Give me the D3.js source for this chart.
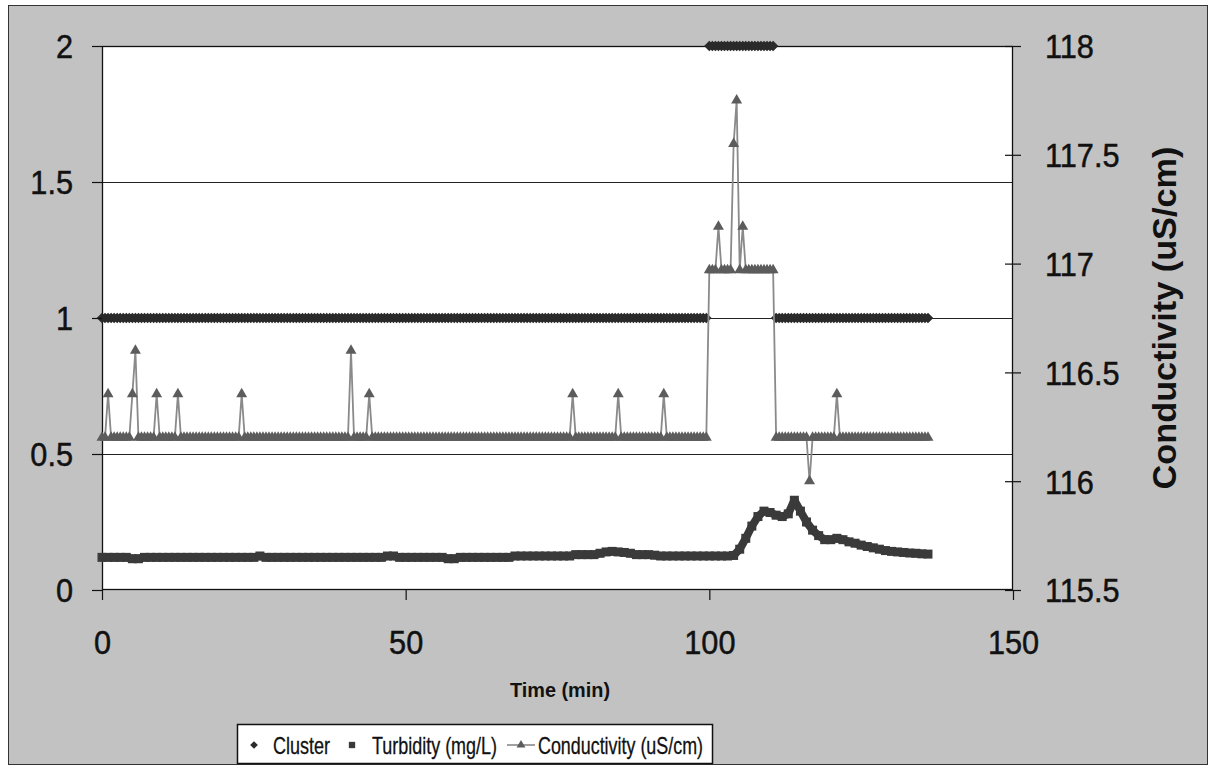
<!DOCTYPE html>
<html><head><meta charset="utf-8">
<script src="https://cdn.jsdelivr.net/npm/d3@7"></script>
<style>html,body{margin:0;padding:0;background:#fff;} svg{display:block;}</style>
</head><body><svg id="chart" width="1210" height="767"></svg>
<script>
// ---------- data ----------
const xTicks = [0, 50, 100, 150];
const xTickLabels = ["0", "50", "100", "150"];
const leftTicks = [0, 0.5, 1, 1.5, 2];
const leftTickLabels = ["0", "0.5", "1", "1.5", "2"];
const rightTicks = [115.5, 116, 116.5, 117, 117.5, 118];
const rightTickLabels = ["115.5", "116", "116.5", "117", "117.5", "118"];
const gridValues = [0.5, 1, 1.5];
const seriesNames = ["Cluster", "Turbidity (mg/L)", "Conductivity (uS/cm)"];
const xTitle = "Time (min)";
const yRightTitle = "Conductivity (uS/cm)";

// cluster & conductivity sampled every 0.5 min (t = 0 ... 136)
const sampleStep = 0.5;
const cluster = [
1,1,1,1,1,1,1,1,1,1,1,1,1,1,1,1,1,1,1,1,
1,1,1,1,1,1,1,1,1,1,1,1,1,1,1,1,1,1,1,1,
1,1,1,1,1,1,1,1,1,1,1,1,1,1,1,1,1,1,1,1,
1,1,1,1,1,1,1,1,1,1,1,1,1,1,1,1,1,1,1,1,
1,1,1,1,1,1,1,1,1,1,1,1,1,1,1,1,1,1,1,1,
1,1,1,1,1,1,1,1,1,1,1,1,1,1,1,1,1,1,1,1,
1,1,1,1,1,1,1,1,1,1,1,1,1,1,1,1,1,1,1,1,
1,1,1,1,1,1,1,1,1,1,1,1,1,1,1,1,1,1,1,1,
1,1,1,1,1,1,1,1,1,1,1,1,1,1,1,1,1,1,1,1,
1,1,1,1,1,1,1,1,1,1,1,1,1,1,1,1,1,1,1,1,
2,2,2,2,2,2,2,2,2,2,2,2,2,2,2,2,2,2,2,2,
2,2,1,1,1,1,1,1,1,1,1,1,1,1,1,1,1,1,1,1,
1,1,1,1,1,1,1,1,1,1,1,1,1,1,1,1,1,1,1,1,
1,1,1,1,1,1,1,1,1,1,1,1,1
];
const conductivity = [
116.2,116.2,116.4,116.2,116.2,116.2,116.2,116.2,116.2,116.2,116.4,116.6,116.2,116.2,116.2,116.2,116.2,116.2,116.4,116.2,
116.2,116.2,116.2,116.2,116.2,116.4,116.2,116.2,116.2,116.2,116.2,116.2,116.2,116.2,116.2,116.2,116.2,116.2,116.2,116.2,
116.2,116.2,116.2,116.2,116.2,116.2,116.4,116.2,116.2,116.2,116.2,116.2,116.2,116.2,116.2,116.2,116.2,116.2,116.2,116.2,
116.2,116.2,116.2,116.2,116.2,116.2,116.2,116.2,116.2,116.2,116.2,116.2,116.2,116.2,116.2,116.2,116.2,116.2,116.2,116.2,
116.2,116.2,116.6,116.2,116.2,116.2,116.2,116.2,116.4,116.2,116.2,116.2,116.2,116.2,116.2,116.2,116.2,116.2,116.2,116.2,
116.2,116.2,116.2,116.2,116.2,116.2,116.2,116.2,116.2,116.2,116.2,116.2,116.2,116.2,116.2,116.2,116.2,116.2,116.2,116.2,
116.2,116.2,116.2,116.2,116.2,116.2,116.2,116.2,116.2,116.2,116.2,116.2,116.2,116.2,116.2,116.2,116.2,116.2,116.2,116.2,
116.2,116.2,116.2,116.2,116.2,116.2,116.2,116.2,116.2,116.2,116.2,116.2,116.2,116.2,116.2,116.4,116.2,116.2,116.2,116.2,
116.2,116.2,116.2,116.2,116.2,116.2,116.2,116.2,116.2,116.2,116.4,116.2,116.2,116.2,116.2,116.2,116.2,116.2,116.2,116.2,
116.2,116.2,116.2,116.2,116.2,116.4,116.2,116.2,116.2,116.2,116.2,116.2,116.2,116.2,116.2,116.2,116.2,116.2,116.2,116.2,
116.97,116.97,116.97,117.17,116.97,116.97,116.97,116.97,117.55,117.75,116.97,117.17,116.97,116.97,116.97,116.97,116.97,116.97,116.97,116.97,
116.97,116.97,116.2,116.2,116.2,116.2,116.2,116.2,116.2,116.2,116.2,116.2,116.2,116.0,116.2,116.2,116.2,116.2,116.2,116.2,
116.2,116.2,116.4,116.2,116.2,116.2,116.2,116.2,116.2,116.2,116.2,116.2,116.2,116.2,116.2,116.2,116.2,116.2,116.2,116.2,
116.2,116.2,116.2,116.2,116.2,116.2,116.2,116.2,116.2,116.2,116.2,116.2,116.2
];
// turbidity sampled every 1 min (t = 0 ... 136)
const turbidityStep = 1;
const turbidity = [
0.12,0.12,0.12,0.12,0.12,0.115,0.115,0.12,0.12,0.12,
0.12,0.12,0.12,0.12,0.12,0.12,0.12,0.12,0.12,0.12,
0.12,0.12,0.12,0.12,0.12,0.12,0.125,0.12,0.12,0.12,
0.12,0.12,0.12,0.12,0.12,0.12,0.12,0.12,0.12,0.12,
0.12,0.12,0.12,0.12,0.12,0.12,0.12,0.125,0.125,0.12,
0.12,0.12,0.12,0.12,0.12,0.12,0.12,0.115,0.115,0.12,
0.12,0.12,0.12,0.12,0.12,0.12,0.12,0.12,0.125,0.125,
0.125,0.125,0.125,0.125,0.125,0.125,0.125,0.125,0.13,0.13,
0.13,0.13,0.135,0.14,0.142,0.14,0.138,0.135,0.13,0.13,
0.13,0.128,0.125,0.125,0.125,0.125,0.125,0.125,0.125,0.125,
0.125,0.125,0.125,0.125,0.127,0.15,0.19,0.235,0.27,0.29,
0.285,0.275,0.27,0.28,0.33,0.29,0.25,0.22,0.2,0.185,
0.185,0.19,0.185,0.177,0.172,0.165,0.16,0.155,0.15,0.145,
0.142,0.14,0.138,0.136,0.135,0.133,0.132
];

// ---------- layout ----------
const W = 1210, H = 767;
const plot = {left: 102, right: 1013, top: 46, bottom: 590};
const svg = d3.select("#chart");
const FONT = "'Liberation Sans', Arial, Helvetica, sans-serif";

const x = d3.scaleLinear().domain([0, 150]).range([plot.left, plot.right]);
const yL = d3.scaleLinear().domain([0, 2]).range([plot.bottom, plot.top]);
const yR = d3.scaleLinear().domain([115.5, 118]).range([plot.bottom, plot.top]);

function squeeze(sel, factor) {
  sel.each(function () {
    const L = this.getComputedTextLength();
    d3.select(this).attr("textLength", L * factor).attr("lengthAdjust", "spacingAndGlyphs");
  });
}

// backgrounds
svg.append("rect").attr("width", W).attr("height", H).attr("fill", "#ffffff");
svg.append("rect").attr("x", 8.5).attr("y", 5.5).attr("width", 1199).attr("height", 759)
  .attr("fill", "#c2c2c2").attr("stroke", "#333").attr("stroke-width", 1);
svg.append("rect").attr("x", plot.left).attr("y", plot.top)
  .attr("width", plot.right - plot.left).attr("height", plot.bottom - plot.top)
  .attr("fill", "#ffffff");

// gridlines
svg.append("g").selectAll("line").data(gridValues).join("line")
  .attr("x1", plot.left).attr("x2", plot.right)
  .attr("y1", d => Math.round(yL(d)) + 0.5).attr("y2", d => Math.round(yL(d)) + 0.5)
  .attr("stroke", "#222").attr("stroke-width", 1);

// plot border
svg.append("rect").attr("x", plot.left + 0.5).attr("y", plot.top + 0.5)
  .attr("width", plot.right - plot.left - 1).attr("height", plot.bottom - plot.top - 1)
  .attr("fill", "none").attr("stroke", "#111").attr("stroke-width", 1.3);

// ---------- series ----------
const clusterPts = cluster.map((v, i) => ({t: i * sampleStep, v}));
const condPts = conductivity.map((v, i) => ({t: i * sampleStep, v}));
const turbPts = turbidity.map((v, i) => ({t: i * turbidityStep, v}));

// Cluster: diamond markers only
svg.append("g").selectAll("path").data(clusterPts).join("path")
  .attr("d", d3.symbol().type(d3.symbolSquare).size(56))
  .attr("transform", d => `translate(${x(d.t)},${yL(d.v)}) rotate(45)`)
  .attr("fill", "#2a2a2a");

// Turbidity: square markers (dense)
svg.append("path").datum(turbPts)
  .attr("d", d3.line().x(d => x(d.t)).y(d => yL(d.v)))
  .attr("fill", "none").attr("stroke", "#3a3a3a").attr("stroke-width", 8)
  .attr("stroke-linejoin", "round");
svg.append("g").selectAll("path").data(turbPts).join("path")
  .attr("d", d3.symbol().type(d3.symbolSquare).size(81))
  .attr("transform", d => `translate(${x(d.t)},${yL(d.v)})`)
  .attr("fill", "#3a3a3a");

// Conductivity: line + triangle markers (secondary axis)
svg.append("path").datum(condPts)
  .attr("d", d3.line().x(d => x(d.t)).y(d => yR(d.v)))
  .attr("fill", "none").attr("stroke", "#8a8a8a").attr("stroke-width", 1.8);
svg.append("g").selectAll("path").data(condPts).join("path")
  .attr("d", d3.symbol().type(d3.symbolTriangle).size(52))
  .attr("transform", d => `translate(${x(d.t)},${yR(d.v)})`)
  .attr("fill", "#5c5c5c");

// ---------- axes ----------
const axL = svg.append("g").attr("transform", `translate(${plot.left},0)`)
  .call(d3.axisLeft(yL).tickValues(leftTicks).tickFormat((d, i) => leftTickLabels[i])
    .tickSize(10).tickPadding(19));
const axR = svg.append("g").attr("transform", `translate(${plot.right},0)`)
  .call(d3.axisRight(yR).tickValues(rightTicks).tickFormat((d, i) => rightTickLabels[i])
    .tickSize(8).tickPadding(24));
axR.selectAll(".tick line").attr("x1", -8);
const axB = svg.append("g").attr("transform", `translate(0,${plot.bottom})`)
  .call(d3.axisBottom(x).tickValues(xTicks).tickFormat((d, i) => xTickLabels[i])
    .tickSize(10).tickPadding(20));
[axL, axR, axB].forEach(a => {
  a.select(".domain").remove();
  a.selectAll(".tick line").attr("stroke", "#111").attr("stroke-width", 1.2);
  a.selectAll(".tick text").attr("font-family", FONT).attr("font-size", 33).attr("fill", "#111")
    .attr("stroke", "#111").attr("stroke-width", 0.5);
});
axL.selectAll(".tick text").attr("dy", "0.36em");
axR.selectAll(".tick text").attr("dy", "0.36em");
axB.selectAll(".tick text").attr("y", 64).attr("dy", 0);
[axL, axR, axB].forEach(a => squeeze(a.selectAll(".tick text"), 0.93));

// axis titles
svg.append("text").attr("x", 560).attr("y", 697).attr("text-anchor", "middle")
  .attr("font-family", FONT).attr("font-weight", "bold").attr("font-size", 21).attr("fill", "#111")
  .attr("textLength", 100).attr("lengthAdjust", "spacingAndGlyphs")
  .text(xTitle);
svg.append("text").attr("transform", "translate(1176,318) rotate(-90)").attr("text-anchor", "middle")
  .attr("font-family", FONT).attr("font-weight", "bold").attr("font-size", 34).attr("fill", "#111")
  .attr("textLength", 343).attr("lengthAdjust", "spacingAndGlyphs")
  .text(yRightTitle);

// ---------- legend ----------
const lg = svg.append("g");
lg.append("rect").attr("x", 237.5).attr("y", 724.5).attr("width", 475).attr("height", 39)
  .attr("fill", "#ffffff").attr("stroke", "#111").attr("stroke-width", 1.5);
const legendItems = [
  {name: seriesNames[0], tx: 273, w: 57},
  {name: seriesNames[1], tx: 372, w: 125},
  {name: seriesNames[2], tx: 538, w: 165}
];
lg.selectAll("text").data(legendItems).join("text")
  .attr("x", d => d.tx).attr("y", 754)
  .attr("font-family", FONT).attr("font-size", 24).attr("fill", "#111")
  .attr("stroke", "#111").attr("stroke-width", 0.3)
  .attr("textLength", d => d.w).attr("lengthAdjust", "spacingAndGlyphs")
  .text(d => d.name);
lg.append("path").attr("d", d3.symbol().type(d3.symbolSquare).size(30))
  .attr("transform", "translate(254,745) rotate(45)").attr("fill", "#2a2a2a");
lg.append("path").attr("d", d3.symbol().type(d3.symbolSquare).size(40))
  .attr("transform", "translate(352,745)").attr("fill", "#3a3a3a");
lg.append("line").attr("x1", 507).attr("x2", 535).attr("y1", 745).attr("y2", 745)
  .attr("stroke", "#8a8a8a").attr("stroke-width", 1.6);
lg.append("path").attr("d", d3.symbol().type(d3.symbolTriangle).size(34))
  .attr("transform", "translate(521,745)").attr("fill", "#5c5c5c");
</script>
</body></html>
